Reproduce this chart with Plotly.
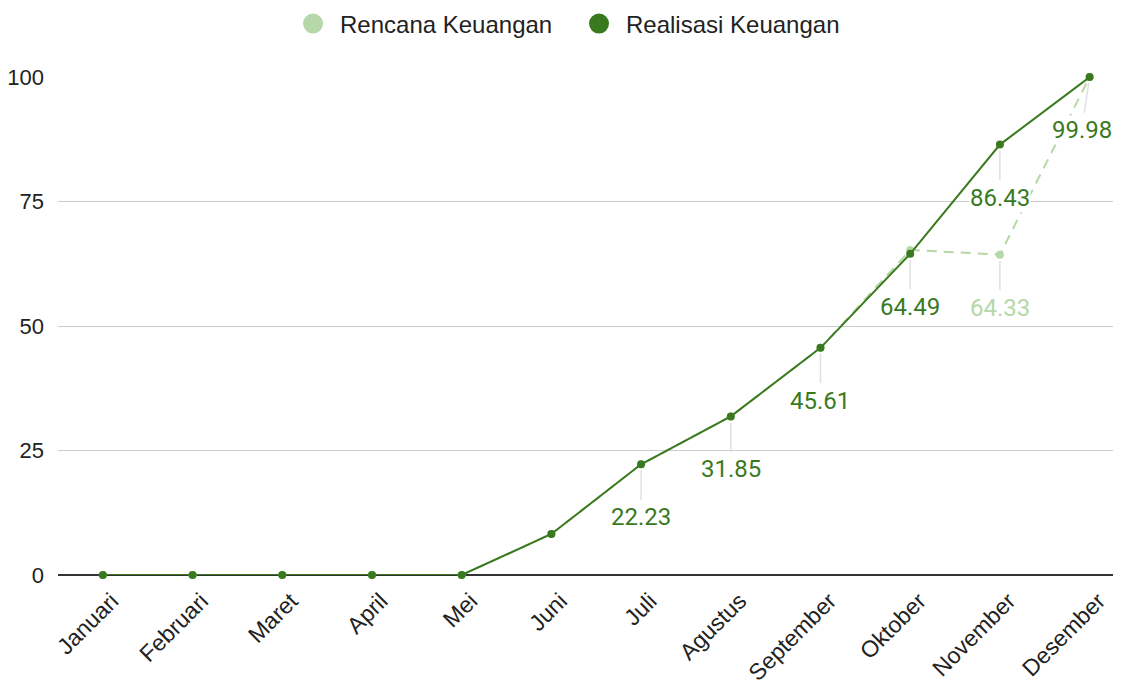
import plotly.graph_objects as go

months = ["Januari", "Februari", "Maret", "April", "Mei", "Juni", "Juli",
          "Agustus", "September", "Oktober", "November", "Desember"]
rencana = [0, 0, 0, 0, 0, 8.23, 22.23, 31.85, 45.61, 65.27, 64.33, 99.98]
realisasi = [0, 0, 0, 0, 0, 8.23, 22.23, 31.85, 45.61, 64.49, 86.43, 99.98]

# which points carry a visible value label
rencana_labels = [10]
realisasi_labels = [6, 7, 8, 9, 10, 11]

DARK = "#3a7a1f"
LIGHT = "#b6d7a8"

fig = go.Figure()
fig.add_trace(go.Scatter(x=months, y=rencana, mode="lines+markers", name="Rencana Keuangan",
                         line=dict(color=LIGHT, width=2, dash="10px,7px"),
                         marker=dict(color=LIGHT, size=8), showlegend=False, cliponaxis=False))
fig.add_trace(go.Scatter(x=months, y=realisasi, mode="lines+markers", name="Realisasi Keuangan",
                         line=dict(color=DARK, width=2),
                         marker=dict(color=DARK, size=8), showlegend=False, cliponaxis=False))
# legend-only circle entries
fig.add_trace(go.Scatter(x=[None], y=[None], mode="markers", name="Rencana Keuangan",
                         marker=dict(color=LIGHT, size=16, line=dict(color=LIGHT, width=4))))
fig.add_trace(go.Scatter(x=[None], y=[None], mode="markers", name="Realisasi Keuangan",
                         marker=dict(color=DARK, size=16, line=dict(color=DARK, width=4))))

annotations = []
for series, idxs, color in ((rencana, rencana_labels, LIGHT), (realisasi, realisasi_labels, DARK)):
    for i in idxs:
        annotations.append(dict(
            x=months[i], y=series[i], xref="x", yref="y",
            text=f"{series[i]:.2f}", showarrow=True,
            ax=-8 if i == len(months) - 1 else 0, ay=53,
            arrowhead=0, arrowwidth=1.5, arrowcolor="#e0e0e0",
            standoff=6, startstandoff=3,
            bgcolor="white", borderpad=0,
            font=dict(family="Roboto", size=24, color=color)))

fig.update_layout(
    width=1113, height=674,
    margin=dict(l=50, r=0, t=69, b=107, autoexpand=False),
    plot_bgcolor="white", paper_bgcolor="white",
    font=dict(family="Liberation Sans, Arial", color="#222"),
    legend=dict(orientation="h", x=0.2145, xanchor="left", y=1 - 16 / 674, yref="container",
                yanchor="middle", font=dict(size=24, color="#222"), itemwidth=44,
                entrywidth=227, entrywidthmode="pixels", tracegroupgap=0),
    annotations=annotations,
    xaxis=dict(type="category", range=[-0.5, 11.35], showgrid=False, showline=False,
               tickangle=-45, tickfont=dict(size=23, color="#222"), ticks="",
               ticklabelshift=9, ticklabelstandoff=7, automargin=False),
    yaxis=dict(range=[0, 100], tickvals=[0, 25, 50, 75, 100], showgrid=True,
               gridcolor="#cccccc", gridwidth=1, zeroline=True, zerolinecolor="#333333",
               zerolinewidth=2, showline=False, tickfont=dict(size=22, color="#222"),
               ticks="", ticklabelstandoff=13, automargin=False),
)

fig.write_html("out.html")
